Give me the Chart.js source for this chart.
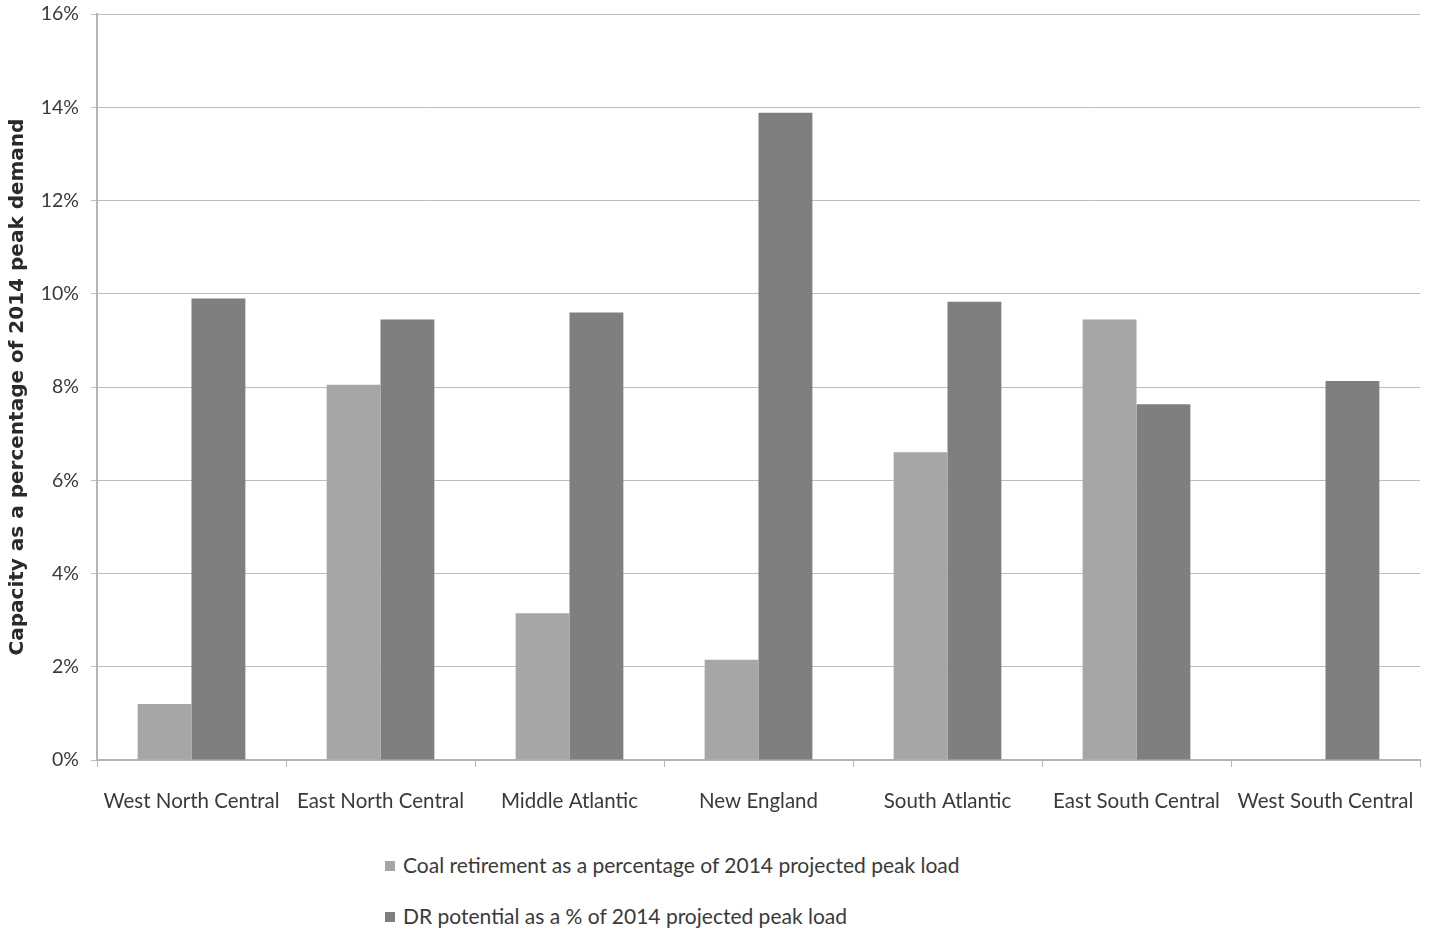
<!DOCTYPE html>
<html>
<head>
<meta charset="utf-8">
<script src="https://cdn.jsdelivr.net/npm/chart.js@4"></script>
<style>
    body { margin: 0; background: #fff; font-family: Lato, sans-serif; }
    #wrap { position: relative; width: 1435px; height: 934px; }
    #chartBox { position: absolute; left: 0; top: 0; width: 1435px; height: 830px; }
    #legend { position: absolute; left: 385px; top: 850px; color: #3a3a3a; font-size: 21px; }
    #legend div { height: 51px; line-height: 30px; }
    #legend span.box { display: inline-block; width: 10px; height: 10px; margin-right: 8px; vertical-align: 2px; }
</style>
</head>
<body>
<div id="wrap">
    <div id="chartBox"><canvas id="capacityChart"></canvas></div>
    <div id="legend"></div>
</div>
<script>
const regiones = ['West North Central', 'East North Central', 'Middle Atlantic', 'New England', 'South Atlantic', 'East South Central', 'West South Central'];

const coalRetirement = [1.2, 8.05, 3.15, 2.15, 6.6, 9.45, 0];

const drPotential = [9.9, 9.45, 9.6, 13.88, 9.83, 7.63, 8.13];

const yTicks = [0, 2, 4, 6, 8, 10, 12, 14, 16];

const series = [
    { label: 'Coal retirement as a percentage of 2014 projected peak load', data: coalRetirement, color: '#a6a6a6' },
    { label: 'DR potential as a % of 2014 projected peak load', data: drPotential, color: '#7f7f7f' }
];

const ctx = document.getElementById('capacityChart');

new Chart(ctx, {
    type: 'bar',
    data: {
        labels: regiones,
        datasets: series.map(s => ({
            label: s.label,
            data: s.data,
            backgroundColor: s.color,
            borderWidth: 0,
            categoryPercentage: 0.57,
            barPercentage: 1
        }))
    },
    options: {
        responsive: true,
        maintainAspectRatio: false,
        animation: false,
        layout: { padding: { top: 14, right: 15, left: 0, bottom: 0 } },
        plugins: {
            legend: { display: false },
            tooltip: { enabled: false }
        },
        scales: {
            x: {
                grid: { drawOnChartArea: false, color: '#b5b5b5', tickLength: 7, offset: true },
                border: { color: '#b5b5b5', width: 2 },
                ticks: { color: '#3a3a3a', font: { family: 'Lato', size: 20.5 }, padding: 22, maxRotation: 0 },
                afterFit: s => { s.height = 70; s.paddingLeft = 0; s.paddingRight = 0; }
            },
            y: {
                min: 0,
                max: 16,
                afterBuildTicks: s => { s.ticks = yTicks.map(v => ({ value: v })); },
                grid: { color: '#bdbdbd', borderDash: [2, 2], tickLength: 6 },
                border: { color: '#b5b5b5', width: 2 },
                ticks: {
                    color: '#3a3a3a',
                    font: { family: 'Lato', size: 19.5 },
                    padding: 12,
                    callback: v => v + '%'
                },
                title: {
                    display: true,
                    text: 'Capacity as a percentage of 2014 peak demand',
                    color: '#2a2a2a',
                    font: { family: 'DejaVu Sans', size: 20, weight: 'bold' },
                    padding: { top: 6, bottom: 0 }
                },
                afterFit: s => { s.width = 97; s.paddingTop = 0; s.paddingBottom = 0; }
            }
        }
    }
});

const legend = document.getElementById('legend');

series.forEach(s => {
    legend.innerHTML += `<div><span class="box" style="background:${s.color}"></span>${s.label}</div>`;
});
</script>
</body>
</html>
